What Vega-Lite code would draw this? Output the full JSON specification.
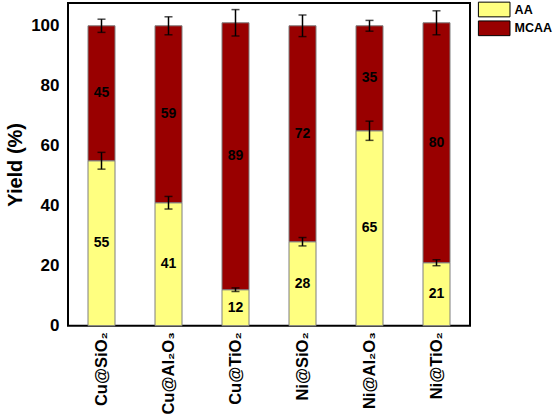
{
  "$schema": "https://vega.github.io/schema/vega-lite/v6.json",
  "width": 402,
  "height": 322.7,
  "autosize": {"type": "none"},
  "padding": {"left": 68, "top": 3, "right": 85, "bottom": 88.3},
  "config": {
    "font": "Liberation Sans",
    "view": {"stroke": "black", "strokeWidth": 2},
    "axis": {"grid": false}
  },
  "data": {
    "values": [
      {"catalyst": "Cu@SiO₂", "product": "AA", "yield": 55, "err": 2.8},
      {"catalyst": "Cu@SiO₂", "product": "MCAA", "yield": 45, "err": 2.2},
      {"catalyst": "Cu@Al₂O₃", "product": "AA", "yield": 41, "err": 2.1},
      {"catalyst": "Cu@Al₂O₃", "product": "MCAA", "yield": 59, "err": 3.0},
      {"catalyst": "Cu@TiO₂", "product": "AA", "yield": 12, "err": 0.6},
      {"catalyst": "Cu@TiO₂", "product": "MCAA", "yield": 89, "err": 4.4},
      {"catalyst": "Ni@SiO₂", "product": "AA", "yield": 28, "err": 1.4},
      {"catalyst": "Ni@SiO₂", "product": "MCAA", "yield": 72, "err": 3.6},
      {"catalyst": "Ni@Al₂O₃", "product": "AA", "yield": 65, "err": 3.2},
      {"catalyst": "Ni@Al₂O₃", "product": "MCAA", "yield": 35, "err": 1.8},
      {"catalyst": "Ni@TiO₂", "product": "AA", "yield": 21, "err": 1.0},
      {"catalyst": "Ni@TiO₂", "product": "MCAA", "yield": 80, "err": 4.0}
    ]
  },
  "transform": [
    {"stack": "yield", "groupby": ["catalyst"], "sort": [{"field": "product", "order": "ascending"}], "as": ["y0", "y1"]},
    {"calculate": "(datum.y0 + datum.y1) / 2", "as": "ymid"}
  ],
  "encoding": {
    "x": {
      "field": "catalyst",
      "type": "nominal",
      "sort": null,
      "scale": {"paddingInner": 0, "paddingOuter": 0},
      "axis": {
        "title": null,
        "labelAngle": -90,
        "labelFont": "Liberation Sans",
        "labelFontWeight": "bold",
        "labelFontSize": 16.5,
        "labelColor": "black",
        "ticks": false,
        "domain": false,
        "labelPadding": 6
      }
    }
  },
  "layer": [
    {
      "mark": {"type": "bar", "size": 27, "stroke": "#7f7f7f", "strokeWidth": 1},
      "encoding": {
        "y": {
          "field": "y0",
          "type": "quantitative",
          "title": "Yield (%)",
          "scale": {"domain": [0, 107.6], "nice": false},
          "axis": {
            "title": "Yield (%)",
            "values": [0, 20, 40, 60, 80, 100],
            "ticks": false,
            "domain": false,
            "labelPadding": 9,
            "labelFont": "Liberation Sans",
            "labelFontSize": 17,
            "labelFontWeight": "bold",
            "labelColor": "black",
            "titleFont": "Liberation Sans",
            "titleFontSize": 20,
            "titleFontWeight": "bold",
            "titleColor": "black",
            "titlePadding": 5
          }
        },
        "y2": {"field": "y1"},
        "color": {
          "field": "product",
          "type": "nominal",
          "scale": {"domain": ["AA", "MCAA"], "range": ["#FFFF80", "#990000"]},
          "legend": {
            "title": null,
            "orient": "none",
            "legendX": 418.2,
            "legendY": -1.5,
            "padding": 0,
            "symbolType": "M-2.15,-1H2.15V1H-2.15Z",
            "symbolSize": 216,
            "symbolStrokeColor": "black",
            "symbolStrokeWidth": 1,
            "symbolOpacity": 1,
            "labelFont": "Liberation Sans",
            "labelFontWeight": "bold",
            "labelFontSize": 12.5,
            "labelColor": "black",
            "labelOffset": 12.4,
            "rowPadding": -1.2
          }
        }
      }
    },
    {
      "mark": {"type": "errorbar", "color": "black", "thickness": 1.5, "ticks": {"size": 8, "color": "black"}},
      "encoding": {
        "y": {"field": "y1", "type": "quantitative", "title": "Yield (%)", "scale": {"domain": [0, 107.6], "nice": false}},
        "yError": {"field": "err"}
      }
    },
    {
      "mark": {"type": "text", "font": "Liberation Sans", "fontWeight": "bold", "fontSize": 14, "color": "black"},
      "encoding": {
        "y": {"field": "ymid", "type": "quantitative", "title": "Yield (%)", "scale": {"domain": [0, 107.6], "nice": false}},
        "text": {"field": "yield", "type": "quantitative"}
      }
    }
  ]
}
